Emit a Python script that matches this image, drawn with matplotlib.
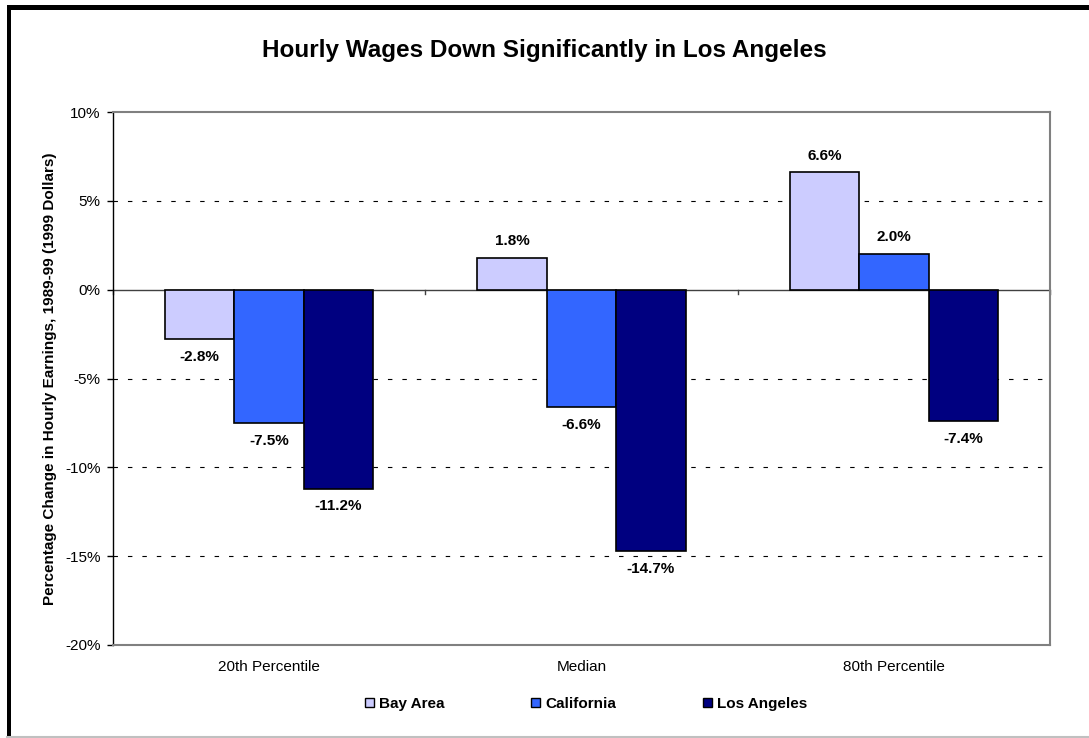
import numpy as np
import matplotlib.pyplot as plt
from matplotlib.patches import Rectangle
from matplotlib.lines import Line2D

plt.rcParams['font.family'] = ['Liberation Sans', 'DejaVu Sans']

# data (percent change 1989-99)
categories = ["20th Percentile", "Median", "80th Percentile"]
series_names = ["Bay Area", "California", "Los Angeles"]
bay_area = [-2.8, 1.8, 6.6]
california = [-7.5, -6.6, 2.0]
los_angeles = [-11.2, -14.7, -7.4]
colors = ["#CCCCFF", "#3366FF", "#000080"]
yticks = [10, 5, 0, -5, -10, -15, -20]

fig = plt.figure(figsize=(10.89, 7.38), dpi=100)
ax = fig.add_axes([113/1089, 1 - 645/738, (1050-113)/1089, (645-112)/738])

x = np.arange(len(categories))
w = 1 / 4.5
for i, (vals, col) in enumerate(zip([bay_area, california, los_angeles], colors)):
    xs = x + (i - 1) * w
    ax.bar(xs, vals, width=w, color=col, edgecolor="black", linewidth=1.2, zorder=3)
    for xi, v in zip(xs, vals):
        off = 0.95 if v >= 0 else -1.0
        ax.text(xi, v + off, "%.1f%%" % v, ha="center", va="center",
                fontsize=11, fontweight="bold", zorder=4)

ax.set_xlim(-0.5, 2.5)
ax.set_ylim(-20, 10)

# dashed gridlines
for g in [5, -5, -10, -15]:
    ax.axhline(g, color="black", linestyle=(0, (4, 9)), linewidth=0.8, zorder=1)
# zero line with category ticks
ax.axhline(0, color="#404040", linewidth=1.0, zorder=2)
for b in np.arange(len(categories) + 1) - 0.5:
    ax.plot([b, b], [0, -0.25], color="#404040", linewidth=1.0, zorder=2, clip_on=False)

ax.set_yticks(yticks)
ax.set_yticklabels(["%d%%" % t for t in yticks], fontsize=11)
ax.set_xticks(x)
ax.set_xticklabels(categories, fontsize=11)
ax.tick_params(axis="x", length=0, pad=11)
ax.tick_params(axis="y", length=4, width=1, direction="out", pad=5)

for s in ["top", "right", "bottom"]:
    ax.spines[s].set_color("#808080")
    ax.spines[s].set_linewidth(1.5)
ax.spines["left"].set_color("black")
ax.spines["left"].set_linewidth(1.0)

ax.set_ylabel("Percentage Change in Hourly Earnings, 1989-99 (1999 Dollars)",
              fontsize=11, fontweight="bold", labelpad=6)

fig.text(0.5, 1 - 51/738, "Hourly Wages Down Significantly in Los Angeles",
         ha="center", va="center", fontsize=17.5, fontweight="bold")

# legend
handles = [Rectangle((0, 0), 1, 1, facecolor=c, edgecolor="black", linewidth=1.0) for c in colors]
leg = fig.legend(handles, series_names, loc="center", bbox_to_anchor=(586/1089, 1 - 704/738),
                 ncol=3, frameon=False, handlelength=0.6, handleheight=0.6,
                 handletextpad=0.3, columnspacing=5.7, prop={"weight": "bold", "size": 11})

# outer frame
fig.patches.append(Rectangle((7/1089, 0), 4/1089, 1 - 5/738, transform=fig.transFigure,
                             facecolor="black", edgecolor="none"))
fig.patches.append(Rectangle((7/1089, 1 - 10/738), 1, 5/738, transform=fig.transFigure,
                             facecolor="black", edgecolor="none"))
fig.lines.append(Line2D([7/1089, 1], [1.5/738, 1.5/738], transform=fig.transFigure,
                        color="#C0C0C0", linewidth=1.5))

fig.savefig("out.png", dpi=100)
